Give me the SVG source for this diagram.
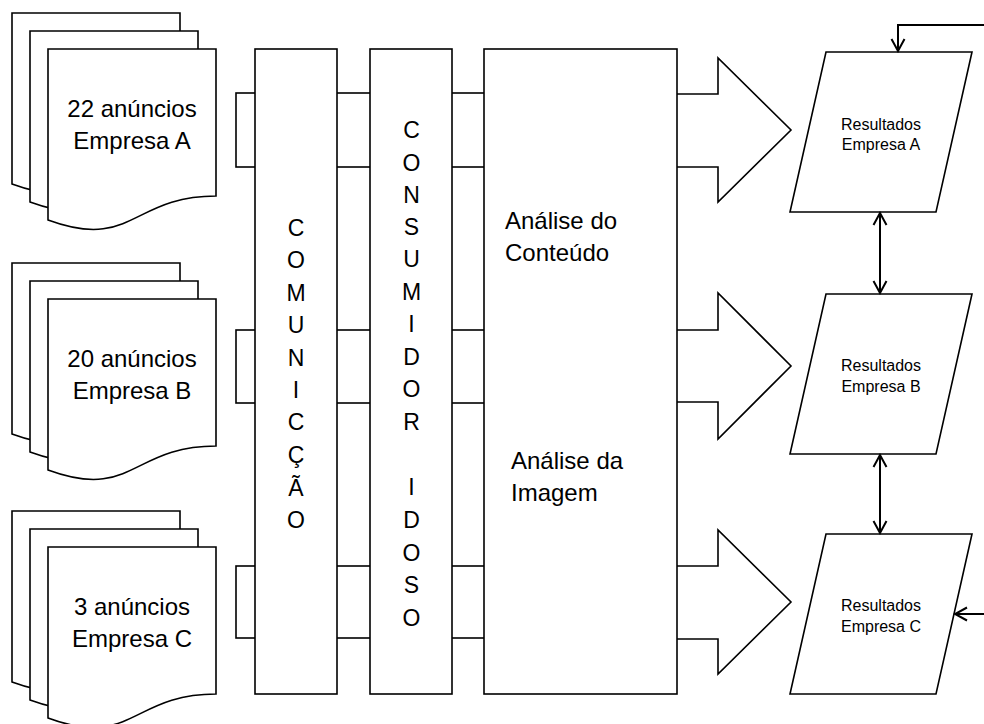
<svg xmlns="http://www.w3.org/2000/svg" width="984" height="724" viewBox="0 0 984 724">
<style>
.s{fill:#fff;stroke:#000;stroke-width:1.6}
.t{font-family:"Liberation Sans",Arial,sans-serif;fill:#000}
.doc{font-size:24px;text-anchor:middle}
.let{font-size:23px;text-anchor:middle}
.res{font-size:16px;text-anchor:middle}
.big{font-size:24px}
.c{fill:none;stroke:#000;stroke-width:2}
</style>
<defs>
<marker id="ah" markerUnits="userSpaceOnUse" markerWidth="16" markerHeight="16" viewBox="0 0 16 16" refX="14" refY="8" orient="auto-start-reverse">
<path d="M2,1.5 L14,8 L2,14.5" fill="none" stroke="#000" stroke-width="2"/>
</marker>
<g id="docstack">
<path class="s" d="M12,13 H180 V160 C96,160 96,215 12,184 Z"/>
<path class="s" d="M30,31 H198 V178 C114,178 114,233 30,202 Z"/>
<path class="s" d="M48,49 H216 V196 C132,196 132,251 48,220 Z"/>
</g>
</defs>
<rect width="984" height="724" fill="#fff"/>

<g id="links">
<rect class="s" x="236" y="93" width="250" height="74"/>
<rect class="s" x="236" y="330" width="250" height="73"/>
<rect class="s" x="236" y="566" width="250" height="72"/>
</g>

<g id="arrowA"><polygon class="s" points="660,94 718,94 718,58 791,130 718,202 718,167 660,167"/></g>
<g id="arrowB"><polygon class="s" points="660,330 718,330 718,293 791,366 718,439 718,402 660,402"/></g>
<g id="arrowC"><polygon class="s" points="660,566 718,566 718,530 791,602 718,674 718,639 660,639"/></g>

<g id="docA">
<use href="#docstack"/>
<text class="t doc" x="132" y="117">22 anúncios</text>
<text class="t doc" x="132" y="149">Empresa A</text>
</g>
<g id="docB" transform="translate(0,250)">
<use href="#docstack"/>
<text class="t doc" x="132" y="117">20 anúncios</text>
<text class="t doc" x="132" y="149">Empresa B</text>
</g>
<g id="docC" transform="translate(0,498)">
<use href="#docstack"/>
<text class="t doc" x="132" y="117">3 anúncios</text>
<text class="t doc" x="132" y="149">Empresa C</text>
</g>

<g id="comunicacao">
<rect class="s" x="255" y="49" width="82" height="645"/>
<text class="t let" x="296" y="236">C</text>
<text class="t let" x="296" y="268.4">O</text>
<text class="t let" x="296" y="300.8">M</text>
<text class="t let" x="296" y="333.2">U</text>
<text class="t let" x="296" y="365.6">N</text>
<text class="t let" x="296" y="398">I</text>
<text class="t let" x="296" y="430.4">C</text>
<text class="t let" x="296" y="462.8">Ç</text>
<text class="t let" x="296" y="495.6">Ã</text>
<text class="t let" x="296" y="528.2">O</text>
</g>

<g id="consumidor">
<rect class="s" x="370" y="49" width="82" height="645"/>
<text class="t let" x="411.5" y="138.2">C</text>
<text class="t let" x="411.5" y="170.6">O</text>
<text class="t let" x="411.5" y="203">N</text>
<text class="t let" x="411.5" y="235.2">S</text>
<text class="t let" x="411.5" y="267.4">U</text>
<text class="t let" x="411.5" y="299.6">M</text>
<text class="t let" x="411.5" y="332">I</text>
<text class="t let" x="411.5" y="364.6">D</text>
<text class="t let" x="411.5" y="397.2">O</text>
<text class="t let" x="411.5" y="429.8">R</text>
<text class="t let" x="411.5" y="495">I</text>
<text class="t let" x="411.5" y="528.2">D</text>
<text class="t let" x="411.5" y="560.6">O</text>
<text class="t let" x="411.5" y="593.2">S</text>
<text class="t let" x="411.5" y="625.8">O</text>
</g>

<g id="analise">
<rect class="s" x="484" y="49" width="193" height="645"/>
<text class="t big" x="505" y="229">Análise do</text>
<text class="t big" x="505" y="261">Conteúdo</text>
<text class="t big" x="511" y="469">Análise da</text>
<text class="t big" x="511" y="501">Imagem</text>
</g>

<g id="resA">
<polygon class="s" points="826,52 972,52 936,212 790,212"/>
<text class="t res" x="881" y="129.5">Resultados</text>
<text class="t res" x="881" y="150.2">Empresa A</text>
</g>
<g id="resB">
<polygon class="s" points="826,294 972,294 936,454 790,454"/>
<text class="t res" x="881" y="370.8">Resultados</text>
<text class="t res" x="881" y="391.6">Empresa B</text>
</g>
<g id="resC">
<polygon class="s" points="826,534 972,534 936,694 790,694"/>
<text class="t res" x="881" y="611.2">Resultados</text>
<text class="t res" x="881" y="632.2">Empresa C</text>
</g>

<g id="connectors">
<path class="c" d="M986,25 H898 V51" marker-end="url(#ah)"/>
<path class="c" d="M880,213 V293" marker-start="url(#ah)" marker-end="url(#ah)"/>
<path class="c" d="M880,455 V533" marker-start="url(#ah)" marker-end="url(#ah)"/>
<path class="c" d="M986,614 H955" marker-end="url(#ah)"/>
</g>
</svg>
